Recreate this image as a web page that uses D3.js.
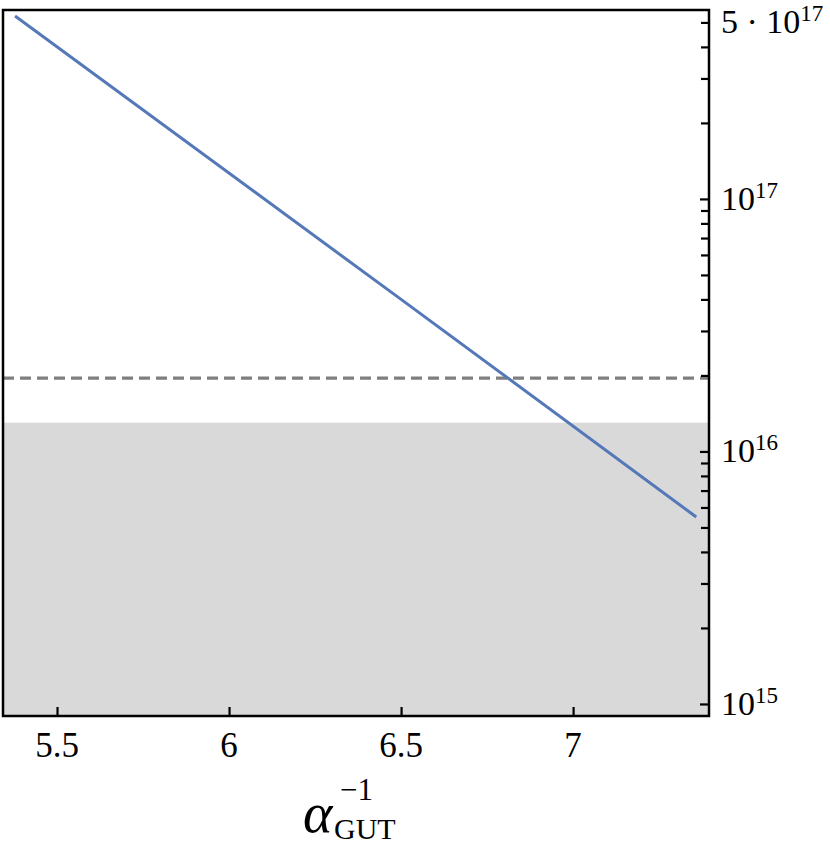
<!DOCTYPE html>
<html><head><meta charset="utf-8">
<script src="https://cdnjs.cloudflare.com/ajax/libs/d3/7.8.5/d3.min.js"></script>
<style>body{margin:0;background:#fff}svg{display:block}</style>
</head><body><div id="c"></div>
<script>
// data
const lineX = [5.378, 6.5, 7.358];
const lineY = [5.3e17, 4.0e16, 5.5e15];
const dashedY = 1.95e16;
const bandTop = 1.3e16;
const xTicks = [5.5, 6, 6.5, 7];
const xTickLabels = ["5.5", "6", "6.5", "7"];
const yMajor = [1e15, 1e16, 1e17];
const yMajorExp = ["15", "16", "17"];
const yMinor = [2e15,3e15,4e15,5e15,6e15,7e15,8e15,9e15,2e16,3e16,4e16,5e16,6e16,7e16,8e16,9e16,2e17,3e17,4e17,5e17];
const yExtraLabel = {value: 5e17, mant: "5 · 10", exp: "17"};
const xDomain = [5.343, 7.395];
const yDomain = [8.96e14, 5.6e17];

const W = 830, H = 850;
const L = 3, R = 709, T = 10, B = 716;
const FONT = "Liberation Serif";
const svg = d3.select("#c").append("svg").attr("width", W).attr("height", H);
const x = d3.scaleLinear().domain(xDomain).range([L, R]);
const y = d3.scaleLog().domain(yDomain).range([B, T]);

// gray band
svg.append("rect").attr("x", L).attr("width", R - L)
  .attr("y", y(bandTop)).attr("height", B - y(bandTop)).attr("fill", "#d9d9d9");

// dashed line
svg.append("line").attr("x1", L).attr("x2", R).attr("y1", y(dashedY)).attr("y2", y(dashedY))
  .attr("stroke", "#7f7f7f").attr("stroke-width", 3.2).attr("stroke-dasharray", "11,6");

// main line
svg.append("path").datum(lineX.map((d, i) => [d, lineY[i]]))
  .attr("d", d3.line().x(d => x(d[0])).y(d => y(d[1])))
  .attr("fill", "none").attr("stroke", "#5578b8").attr("stroke-width", 3);

// x axis ticks (inside)
const xa = svg.append("g").attr("transform", `translate(0,${B})`)
  .call(d3.axisTop(x).tickValues(xTicks).tickSize(9).tickFormat(""));
xa.select(".domain").remove();
xa.selectAll("line").attr("stroke", "#000").attr("stroke-width", 2.2);
svg.selectAll(".xl").data(xTicks).enter().append("text")
  .attr("x", d => x(d)).attr("y", B + 41).attr("text-anchor", "middle")
  .attr("font-family", FONT).attr("font-size", 35).attr("fill", "#000")
  .text((d, i) => xTickLabels[i]);

// y axis on right, ticks inside
const ya = svg.append("g").attr("transform", `translate(${R},0)`)
  .call(d3.axisLeft(y).tickValues(yMajor).tickSize(9).tickFormat(""));
ya.select(".domain").remove();
ya.selectAll("line").attr("stroke", "#000").attr("stroke-width", 2.2);
const ym = svg.append("g").attr("transform", `translate(${R},0)`)
  .call(d3.axisLeft(y).tickValues(yMinor).tickSize(8).tickFormat(""));
ym.select(".domain").remove();
ym.selectAll("line").attr("stroke", "#000").attr("stroke-width", 2.2);

function yLabel(v, mant, exp) {
  const t = svg.append("text").attr("x", R + 12).attr("y", y(v) + 11)
    .attr("font-family", FONT).attr("font-size", 34).attr("fill", "#000");
  t.append("tspan").text(mant);
  t.append("tspan").attr("dy", -12).attr("font-size", 23).text(exp);
}
yMajor.forEach((v, i) => yLabel(v, "10", yMajorExp[i]));
yLabel(yExtraLabel.value, yExtraLabel.mant, yExtraLabel.exp);

// frame
svg.append("rect").attr("x", L).attr("y", T).attr("width", R - L).attr("height", B - T)
  .attr("fill", "none").attr("stroke", "#000").attr("stroke-width", 2.5);

// x label: alpha_GUT^{-1}
svg.append("text").attr("x", 303).attr("y", 832).attr("font-family", FONT).attr("font-size", 56)
  .attr("font-style", "italic").attr("fill", "#000").text("α");
svg.append("text").attr("x", 340).attr("y", 800).attr("font-family", FONT).attr("font-size", 31)
  .attr("fill", "#000").text("−1");
svg.append("text").attr("x", 334).attr("y", 839).attr("font-family", FONT).attr("font-size", 30)
  .attr("fill", "#000").text("GUT");
</script></body></html>
